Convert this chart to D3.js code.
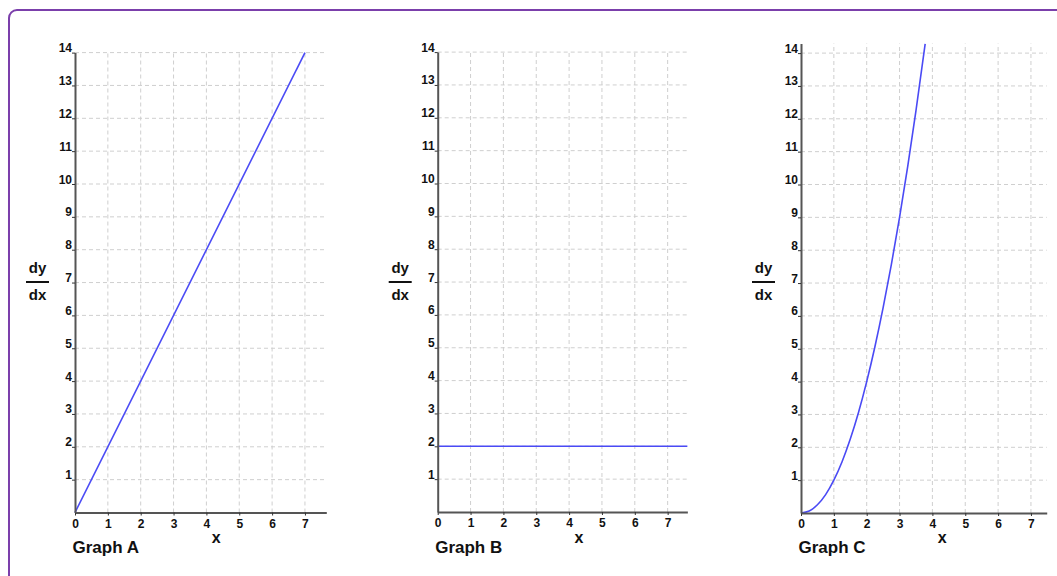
<!DOCTYPE html>
<html>
<head>
<meta charset="utf-8">
<script src="https://cdn.jsdelivr.net/npm/d3@7"></script>
<style>
  html, body { margin: 0; padding: 0; background: #fff; }
  svg { display: block; font-family: "Liberation Sans", Arial, sans-serif; }
</style>
</head>
<body>
<svg id="chart" width="1057" height="576"></svg>
<script>
// Tick values shared by the three panels
const xTicks = [0, 1, 2, 3, 4, 5, 6, 7];
const yTicks = [1, 2, 3, 4, 5, 6, 7, 8, 9, 10, 11, 12, 13, 14];

// Graph A: dy/dx rising in a straight line
const graphAx = [0, 7];
const graphAy = [0, 14];

// Graph B: constant dy/dx
const graphBx = [0, 7.6];
const graphBy = [2, 2];

// Graph C: dy/dx curving upward
const graphCx = [0, 0.25, 0.5, 0.75, 1, 1.25, 1.5, 1.75, 2, 2.25, 2.5, 2.75, 3, 3.25, 3.5, 3.78];
const graphCy = [0, 0.06, 0.25, 0.56, 1, 1.56, 2.25, 3.06, 4, 5.06, 6.25, 7.56, 9, 10.56, 12.25, 14.28];

const panelTitles = ["Graph A", "Graph B", "Graph C"];

const panels = [
  { title: panelTitles[0], xs: graphAx, ys: graphAy, ox: 75,    oy: 512.5, xMax: 7.65, yMax: 14 },
  { title: panelTitles[1], xs: graphBx, ys: graphBy, ox: 437.7, oy: 512,   xMax: 7.6,  yMax: 14 },
  { title: panelTitles[2], xs: graphCx, ys: graphCy, ox: 801,   oy: 513,   xMax: 7.48, yMax: 14.29 }
];
const unit = 32.85;

const svg = d3.select("#chart");

// Rounded purple frame
svg.append("rect")
  .attr("x", 9).attr("y", 10)
  .attr("width", 1080).attr("height", 600)
  .attr("rx", 8).attr("ry", 8)
  .attr("fill", "none")
  .attr("stroke", "#7b3fab")
  .attr("stroke-width", 2);

const lineColor = "#4a4af5";
const gridColor = "#cfcfcf";
const axisColor = "#555";

panels.forEach(p => {
  const x = d3.scaleLinear().domain([0, p.xMax]).range([p.ox, p.ox + p.xMax * unit]);
  const y = d3.scaleLinear().domain([0, p.yMax]).range([p.oy, p.oy - p.yMax * unit]);
  const g = svg.append("g");

  // Dashed grid
  g.append("g").selectAll("line.v")
    .data(xTicks.filter(d => d > 0))
    .join("line")
    .attr("x1", d => x(d)).attr("x2", d => x(d))
    .attr("y1", y(0)).attr("y2", y(p.yMax))
    .attr("stroke", gridColor).attr("stroke-width", 1)
    .attr("stroke-dasharray", "4,3");
  g.append("g").selectAll("line.h")
    .data(yTicks)
    .join("line")
    .attr("x1", x(0)).attr("x2", x(p.xMax))
    .attr("y1", d => y(d)).attr("y2", d => y(d))
    .attr("stroke", gridColor).attr("stroke-width", 1)
    .attr("stroke-dasharray", "4,3");

  // Data line
  const pts = p.xs.map((v, i) => [v, p.ys[i]]);
  g.append("path")
    .datum(pts)
    .attr("fill", "none")
    .attr("stroke", lineColor)
    .attr("stroke-width", 1.6)
    .attr("d", d3.line().x(d => x(d[0])).y(d => y(d[1])).curve(d3.curveMonotoneX));

  // Axes
  const xAxis = g.append("g")
    .attr("transform", `translate(0,${y(0)})`)
    .call(d3.axisBottom(x).tickValues(xTicks).tickFormat(d3.format("d")).tickSize(3).tickSizeOuter(0).tickPadding(2));
  const yAxis = g.append("g")
    .attr("transform", `translate(${x(0)},0)`)
    .call(d3.axisLeft(y).tickValues(yTicks).tickFormat(d3.format("d")).tickSize(3).tickSizeOuter(0).tickPadding(0));

  [xAxis, yAxis].forEach(a => {
    a.select(".domain").attr("stroke", axisColor).attr("stroke-width", 2);
    a.selectAll(".tick line").attr("stroke", "#333").attr("stroke-width", 1);
    a.selectAll(".tick text")
      .attr("fill", "#111")
      .style("font-size", "12px")
      .style("font-weight", "bold")
      .style("font-family", "'Liberation Sans', Arial, sans-serif");
  });
  yAxis.selectAll(".tick text").attr("dy", null).attr("y", -1).attr("x", -3);
  xAxis.selectAll(".tick text").attr("dy", null).attr("y", 15);

  // Axis titles
  g.append("text")
    .attr("x", x(4.3)).attr("y", 543)
    .attr("text-anchor", "middle")
    .style("font-size", "16px").style("font-weight", "bold")
    .attr("fill", "#111")
    .text("x");

  const fx = p.ox - 37.5;
  g.append("text")
    .attr("x", fx).attr("y", 272.5)
    .attr("text-anchor", "middle")
    .style("font-size", "15px").style("font-weight", "bold")
    .attr("fill", "#111")
    .text("dy");
  g.append("line")
    .attr("x1", fx - 11.5).attr("x2", fx + 11.5)
    .attr("y1", 282).attr("y2", 282)
    .attr("stroke", "#111").attr("stroke-width", 2);
  g.append("text")
    .attr("x", fx).attr("y", 299.5)
    .attr("text-anchor", "middle")
    .style("font-size", "15px").style("font-weight", "bold")
    .attr("fill", "#111")
    .text("dx");

  // Panel caption
  g.append("text")
    .attr("x", p.ox - 2.5).attr("y", 553)
    .style("font-size", "17px").style("font-weight", "bold")
    .attr("fill", "#111")
    .text(p.title);
});
</script>
</body>
</html>
